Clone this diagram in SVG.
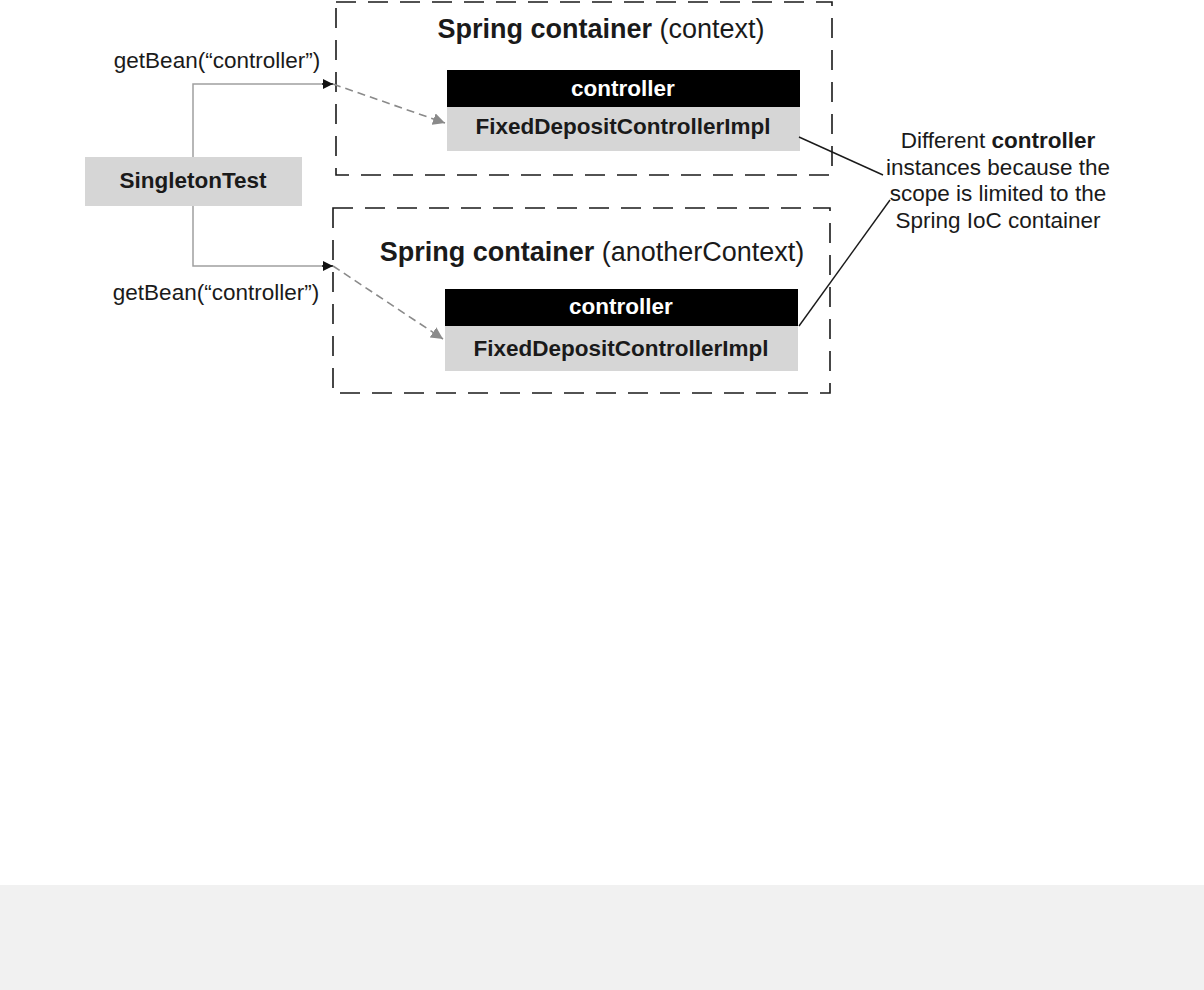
<svg xmlns="http://www.w3.org/2000/svg" width="1204" height="990" viewBox="0 0 1204 990">
<style>
text{font-family:"Liberation Sans",Arial,sans-serif;fill:#1a1a1a}
.c{stroke:#1a1a1a;stroke-width:1.6;fill:none;stroke-dasharray:20 12}
.t{font-size:27px}
.b{font-weight:bold}
.n{font-size:22.5px}
.w{fill:#fff}
.g{fill:#d6d6d6}
.k{fill:#000}
.solid{stroke:#a0a0a0;stroke-width:1.5;fill:none}
.dash{stroke:#8a8a8a;stroke-width:1.6;fill:none;stroke-dasharray:8 5}
.ann{stroke:#1a1a1a;stroke-width:1.4;fill:none}
</style>
<defs>
<marker id="ab" viewBox="0 0 10 10" refX="10" refY="5" markerWidth="10" markerHeight="10" markerUnits="userSpaceOnUse" orient="auto"><path d="M0,0 L10,5 L0,10 z" fill="#111"/></marker>
<marker id="ag" viewBox="0 0 10 10" refX="10" refY="5" markerWidth="12" markerHeight="12" markerUnits="userSpaceOnUse" orient="auto"><path d="M0,0 L10,5 L0,10 z" fill="#8a8a8a"/></marker>
</defs>
<rect x="0" y="0" width="1204" height="990" fill="#fff"/>
<rect x="0" y="885" width="1204" height="105" fill="#f1f1f1"/>
<g id="container-context">
<rect class="c" x="336" y="2" width="496" height="173"/>
<text class="t" x="601" y="38" text-anchor="middle"><tspan class="b">Spring container</tspan> (context)</text>
</g>
<g id="bean-context">
<rect class="k" x="447" y="70" width="353" height="37"/>
<rect class="g" x="447" y="107" width="353" height="44"/>
<text class="n b w" x="623" y="96" text-anchor="middle">controller</text>
<text class="n b" x="623" y="134" text-anchor="middle">FixedDepositControllerImpl</text>
</g>
<g id="container-another">
<rect class="c" x="333" y="208" width="497" height="185"/>
<text class="t" x="592" y="261" text-anchor="middle"><tspan class="b">Spring container</tspan> (anotherContext)</text>
</g>
<g id="bean-another">
<rect class="k" x="445" y="289" width="353" height="37"/>
<rect class="g" x="445" y="326" width="353" height="45"/>
<text class="n b w" x="621" y="314" text-anchor="middle">controller</text>
<text class="n b" x="621" y="356" text-anchor="middle">FixedDepositControllerImpl</text>
</g>
<g id="singletontest">
<rect class="g" x="85" y="157" width="217" height="49"/>
<text class="n b" x="193" y="188" text-anchor="middle">SingletonTest</text>
</g>
<g id="note">
<text class="n" x="998" y="148" text-anchor="middle">Different <tspan class="b">controller</tspan></text>
<text class="n" x="998" y="175" text-anchor="middle">instances because the</text>
<text class="n" x="998" y="201" text-anchor="middle">scope is limited to the</text>
<text class="n" x="998" y="228" text-anchor="middle">Spring IoC container</text>
</g>
<g id="connectors">
<polyline class="solid" points="193,157 193,84 325,84"/>
<line x1="322" y1="84" x2="333" y2="84" stroke="#111" stroke-width="1.5" marker-end="url(#ab)"/>
<line class="dash" x1="333" y1="84" x2="445" y2="123" marker-end="url(#ag)"/>
<polyline class="solid" points="193,206 193,266 325,266"/>
<line x1="322" y1="266" x2="333" y2="266" stroke="#111" stroke-width="1.5" marker-end="url(#ab)"/>
<line class="dash" x1="333" y1="266" x2="443" y2="339" marker-end="url(#ag)"/>
<line class="ann" x1="799" y1="137" x2="883" y2="175"/>
<line class="ann" x1="799" y1="326" x2="890" y2="200"/>
<text class="n" x="217" y="68" text-anchor="middle">getBean(“controller”)</text>
<text class="n" x="216" y="300" text-anchor="middle">getBean(“controller”)</text>
</g>
</svg>
